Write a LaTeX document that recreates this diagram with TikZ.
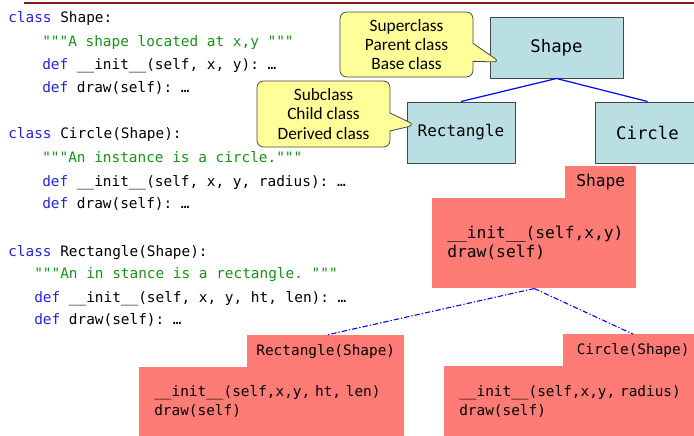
\documentclass[tikz,border=0pt]{standalone}
\usepackage{fontspec}
\setmainfont{Carlito}
\setmonofont{DejaVu Sans Mono}
\usetikzlibrary{shapes.callouts,positioning}
\definecolor{kwblue}{RGB}{35,35,225}
\definecolor{docgreen}{RGB}{25,145,25}
\definecolor{boxblue}{RGB}{186,223,227}
\definecolor{boxedge}{RGB}{70,70,70}
\definecolor{notefill}{RGB}{255,255,153}
\definecolor{salmon}{RGB}{255,124,118}
\definecolor{rulered}{RGB}{140,25,25}
\newcommand{\pykw}[1]{\textcolor{kwblue}{#1}}
\newcommand{\pydoc}[1]{\textcolor{docgreen}{#1}}
\tikzset{
  code/.style={anchor=base west,inner sep=0pt,font=\ttfamily\fontsize{10.8}{13}\selectfont},
  classbox/.style={draw=boxedge,fill=boxblue,line width=0.75pt,minimum height=45.75pt,font=\ttfamily\fontsize{13}{15}\selectfont},
  note/.style={rectangle callout,rounded corners=5pt,draw=boxedge,fill=notefill,line width=0.6pt,
    align=center,minimum width=99.75pt,callout pointer width=13.5pt,font=\fontsize{13}{14.3}\selectfont},
  redtab/.style={fill=salmon,inner sep=0pt,minimum height=23.5pt,anchor=south east,font=\ttfamily\fontsize{10.8}{13}\selectfont},
  redbody/.style={fill=salmon,align=left,inner xsep=11.25pt,inner ysep=0pt,anchor=north west,font=\ttfamily\fontsize{10.8}{14.25}\selectfont},
  isa/.style={blue,line width=0.9pt},
  inherit/.style={blue,line width=0.8pt,dash pattern=on 4pt off 1.5pt on 1pt off 1.5pt}
}
\begin{document}
\begin{tikzpicture}[x=0.75pt,y=-0.75pt]
  \useasboundingbox (0,0) rectangle (694,436);
  \draw[rulered,line width=1.5pt] (24,3) -- (694,3);
  % python code
  \node[code] (l1) at (8,22) {\pykw{class} Shape:};
  \node[code] (l2) at (42,46) {\pydoc{"""A shape located at x,y """}};
  \node[code] (l3) at (42,69) {\pykw{def} \_\_init\_\_(self, x, y): …};
  \node[code] (l4) at (42,92) {\pykw{def} draw(self): …};
  \node[code] (l5) at (8,138) {\pykw{class} Circle(Shape):};
  \node[code] (l6) at (42,162) {\pydoc{"""An instance is a circle."""}};
  \node[code] (l7) at (42,186) {\pykw{def} \_\_init\_\_(self, x, y, radius): …};
  \node[code] (l8) at (42,208) {\pykw{def} draw(self): …};
  \node[code] (l9) at (8,256) {\pykw{class} Rectangle(Shape):};
  \node[code] (l10) at (34,278) {\pydoc{"""An in stance is a rectangle. """}};
  \node[code] (l11) at (34,302) {\pykw{def} \_\_init\_\_(self, x, y, ht, len): …};
  \node[code] (l12) at (34,324) {\pykw{def} draw(self): …};
  % class tree
  \node[classbox,minimum width=99.75pt] (shape) at (556.5,47.5) {Shape};
  \node[classbox,minimum width=81pt,font=\ttfamily\fontsize{12}{14}\selectfont] (rect) at (461,132.5) {Rectangle};
  \node[classbox,minimum width=78.75pt] (circ) at (647.5,132.5) {Circle};
  \draw[isa] (shape.south) -- (rect.north);
  \draw[isa] (shape.south) -- (circ.north);
  % callouts
  \coordinate (tipsup) at (500,62);
  \coordinate (tipsub) at (415,125);
  \node[note,minimum height=48.75pt,callout absolute pointer=(tipsup)] (supnote) at (406.5,44.5) {Superclass\\Parent class\\Base class};
  \node[note,minimum height=49.5pt,callout absolute pointer=(tipsub)] (subnote) at (323.5,114) {Subclass\\Child class\\Derived class};
  % objects
  \node[redbody,text width=130.5pt,minimum height=67.5pt,font=\ttfamily\fontsize{12.2}{14.25}\selectfont] (shapebody) at (432,198) {\_\_init\_\_(self,x,y)\\draw(self)};
  \node[redtab,minimum width=53.25pt,font=\ttfamily\fontsize{12.2}{14}\selectfont] (shapetab) at (shapebody.north east) {Shape};
  \node[redbody,text width=176.25pt,minimum height=51.75pt] (rectbody) at (139,367) {\_\_init\_\_(self,x,y, ht, len)\\draw(self)};
  \node[redtab,minimum width=117.75pt] (recttab) at (rectbody.north east) {Rectangle(Shape)};
  \node[redbody,text width=172pt,minimum height=52.5pt] (circbody) at (444,366) {\_\_init\_\_(self,x,y, radius)\\draw(self)};
  \node[redtab,minimum width=105.75pt] (circtab) at (circbody.north east) {Circle(Shape)};
  \draw[inherit] (shapebody.south) -- (recttab.north);
  \draw[inherit] (shapebody.south) -- (circtab.north);
\end{tikzpicture}
\end{document}
